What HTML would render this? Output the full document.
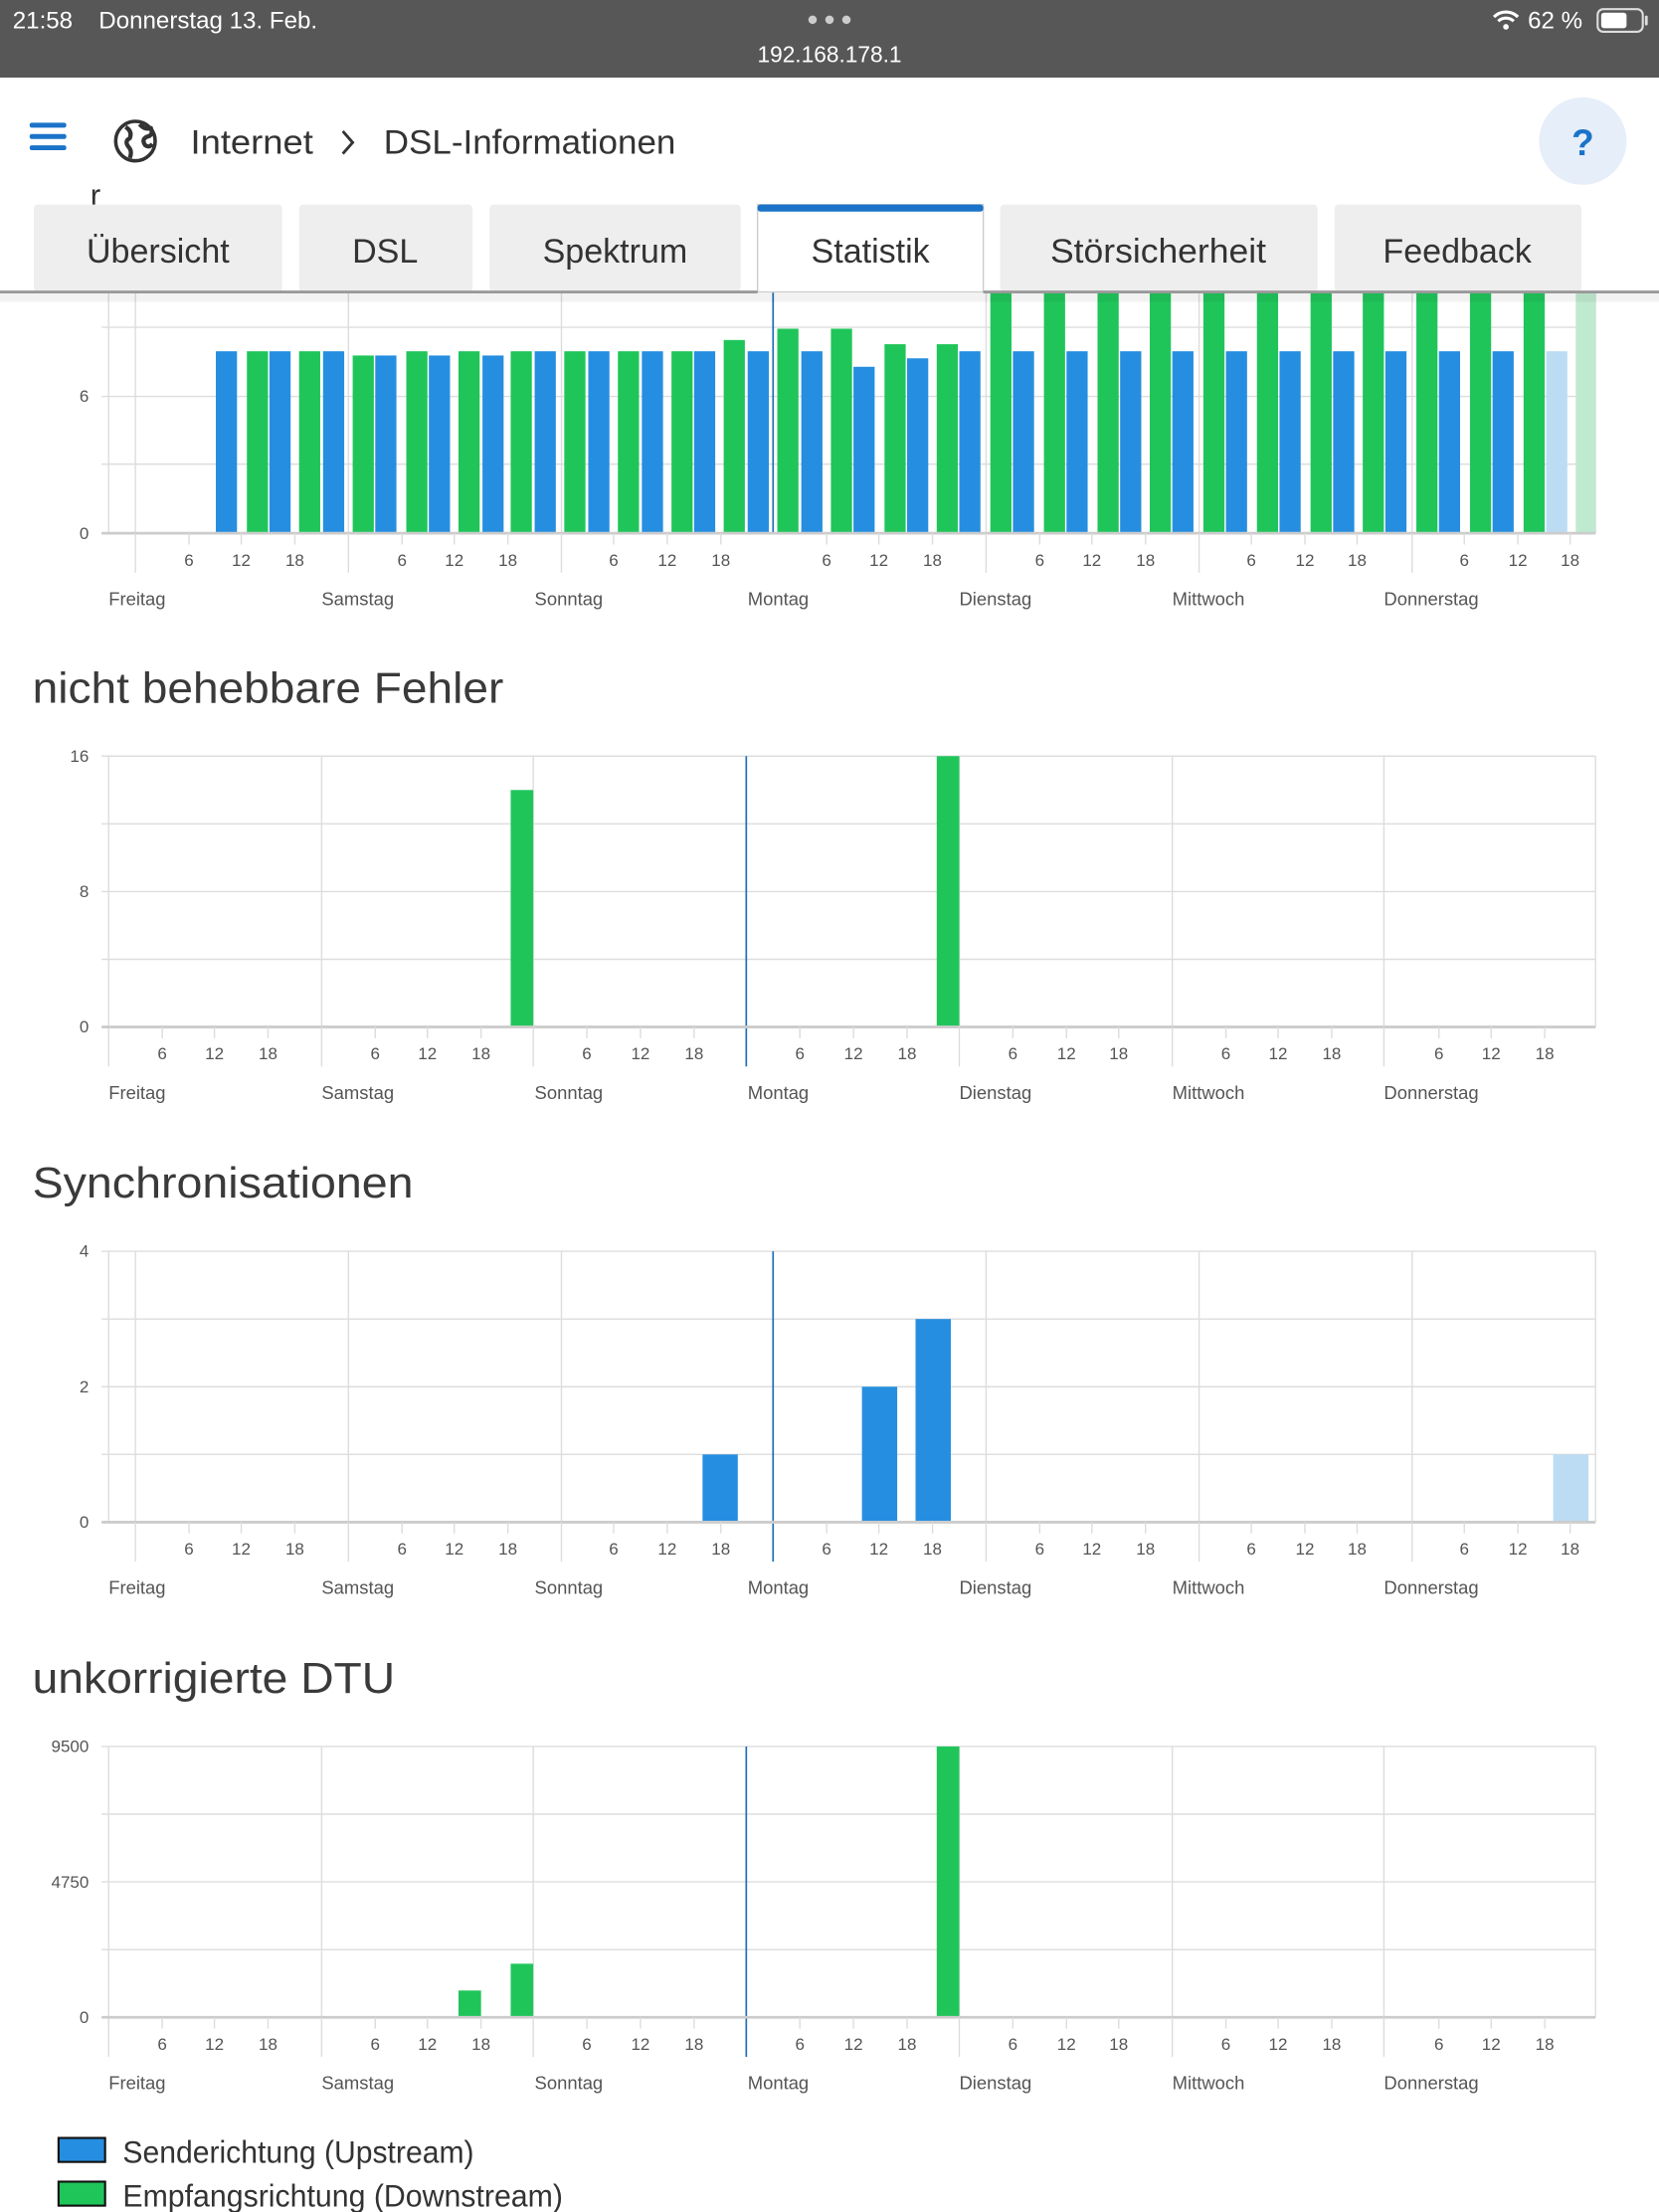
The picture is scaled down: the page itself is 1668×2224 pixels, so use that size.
<!DOCTYPE html>
<html><head><meta charset="utf-8"><style>
html,body{margin:0;padding:0;background:#fff;}
svg{display:block;}
text{font-family:"Liberation Sans",sans-serif;}
.tk{font-size:12px;fill:#555;text-anchor:middle;}
.dy{font-size:13px;fill:#555;}
.yl{font-size:12px;fill:#555;text-anchor:end;}
.h{font-size:31px;fill:#3a3a3a;}
.tab{font-size:24px;fill:#333;text-anchor:middle;}
.g{stroke:#ddd;stroke-width:1;}
.ga{stroke:#ccc;stroke-width:2;}
</style></head><body>
<svg width="1668" height="2224" viewBox="0 0 1176 1568" xmlns="http://www.w3.org/2000/svg">
<defs>
<g id="vA">
<line class="g" x1="96" y1="0" x2="96" y2="28"/><line class="g" x1="247" y1="0" x2="247" y2="28"/><line class="g" x1="398" y1="0" x2="398" y2="28"/><line class="g" x1="699" y1="0" x2="699" y2="28"/><line class="g" x1="850" y1="0" x2="850" y2="28"/><line class="g" x1="1001" y1="0" x2="1001" y2="28"/>
<g class="g"><line x1="134" y1="0" x2="134" y2="8"/><line x1="171" y1="0" x2="171" y2="8"/><line x1="209" y1="0" x2="209" y2="8"/><line x1="285" y1="0" x2="285" y2="8"/><line x1="322" y1="0" x2="322" y2="8"/><line x1="360" y1="0" x2="360" y2="8"/><line x1="435" y1="0" x2="435" y2="8"/><line x1="473" y1="0" x2="473" y2="8"/><line x1="511" y1="0" x2="511" y2="8"/><line x1="586" y1="0" x2="586" y2="8"/><line x1="623" y1="0" x2="623" y2="8"/><line x1="661" y1="0" x2="661" y2="8"/><line x1="737" y1="0" x2="737" y2="8"/><line x1="774" y1="0" x2="774" y2="8"/><line x1="812" y1="0" x2="812" y2="8"/><line x1="887" y1="0" x2="887" y2="8"/><line x1="925" y1="0" x2="925" y2="8"/><line x1="962" y1="0" x2="962" y2="8"/><line x1="1038" y1="0" x2="1038" y2="8"/><line x1="1076" y1="0" x2="1076" y2="8"/><line x1="1113" y1="0" x2="1113" y2="8"/></g>
<text class="tk" x="134" y="23">6</text><text class="tk" x="171" y="23">12</text><text class="tk" x="209" y="23">18</text>
<text class="tk" x="285" y="23">6</text><text class="tk" x="322" y="23">12</text><text class="tk" x="360" y="23">18</text>
<text class="tk" x="435" y="23">6</text><text class="tk" x="473" y="23">12</text><text class="tk" x="511" y="23">18</text>
<text class="tk" x="586" y="23">6</text><text class="tk" x="623" y="23">12</text><text class="tk" x="661" y="23">18</text>
<text class="tk" x="737" y="23">6</text><text class="tk" x="774" y="23">12</text><text class="tk" x="812" y="23">18</text>
<text class="tk" x="887" y="23">6</text><text class="tk" x="925" y="23">12</text><text class="tk" x="962" y="23">18</text>
<text class="tk" x="1038" y="23">6</text><text class="tk" x="1076" y="23">12</text><text class="tk" x="1113" y="23">18</text>
</g>
<g id="vB">
<line class="g" x1="228" y1="0" x2="228" y2="28"/><line class="g" x1="378" y1="0" x2="378" y2="28"/><line class="g" x1="680" y1="0" x2="680" y2="28"/><line class="g" x1="831" y1="0" x2="831" y2="28"/><line class="g" x1="981" y1="0" x2="981" y2="28"/>
<g class="g"><line x1="115" y1="0" x2="115" y2="8"/><line x1="152" y1="0" x2="152" y2="8"/><line x1="190" y1="0" x2="190" y2="8"/><line x1="266" y1="0" x2="266" y2="8"/><line x1="303" y1="0" x2="303" y2="8"/><line x1="341" y1="0" x2="341" y2="8"/><line x1="416" y1="0" x2="416" y2="8"/><line x1="454" y1="0" x2="454" y2="8"/><line x1="492" y1="0" x2="492" y2="8"/><line x1="567" y1="0" x2="567" y2="8"/><line x1="605" y1="0" x2="605" y2="8"/><line x1="643" y1="0" x2="643" y2="8"/><line x1="718" y1="0" x2="718" y2="8"/><line x1="756" y1="0" x2="756" y2="8"/><line x1="793" y1="0" x2="793" y2="8"/><line x1="869" y1="0" x2="869" y2="8"/><line x1="906" y1="0" x2="906" y2="8"/><line x1="944" y1="0" x2="944" y2="8"/><line x1="1020" y1="0" x2="1020" y2="8"/><line x1="1057" y1="0" x2="1057" y2="8"/><line x1="1095" y1="0" x2="1095" y2="8"/></g>
<text class="tk" x="115" y="23">6</text><text class="tk" x="152" y="23">12</text><text class="tk" x="190" y="23">18</text>
<text class="tk" x="266" y="23">6</text><text class="tk" x="303" y="23">12</text><text class="tk" x="341" y="23">18</text>
<text class="tk" x="416" y="23">6</text><text class="tk" x="454" y="23">12</text><text class="tk" x="492" y="23">18</text>
<text class="tk" x="567" y="23">6</text><text class="tk" x="605" y="23">12</text><text class="tk" x="643" y="23">18</text>
<text class="tk" x="718" y="23">6</text><text class="tk" x="756" y="23">12</text><text class="tk" x="793" y="23">18</text>
<text class="tk" x="869" y="23">6</text><text class="tk" x="906" y="23">12</text><text class="tk" x="944" y="23">18</text>
<text class="tk" x="1020" y="23">6</text><text class="tk" x="1057" y="23">12</text><text class="tk" x="1095" y="23">18</text>
</g>
<g id="days">
<text class="dy" x="77" y="51">Freitag</text><text class="dy" x="228" y="51">Samstag</text><text class="dy" x="379" y="51">Sonntag</text><text class="dy" x="530" y="51">Montag</text><text class="dy" x="680" y="51">Dienstag</text><text class="dy" x="831" y="51">Mittwoch</text><text class="dy" x="981" y="51">Donnerstag</text>
</g>
</defs>

<!-- Chart 1 -->
<g>
<g class="g"><line x1="72" y1="232" x2="1131" y2="232"/><line x1="72" y1="281" x2="1131" y2="281"/><line x1="72" y1="329" x2="1131" y2="329"/>
<line x1="77" y1="207" x2="77" y2="378"/><line x1="96" y1="207" x2="96" y2="378"/><line x1="247" y1="207" x2="247" y2="378"/><line x1="398" y1="207" x2="398" y2="378"/><line x1="699" y1="207" x2="699" y2="378"/><line x1="850" y1="207" x2="850" y2="378"/><line x1="1001" y1="207" x2="1001" y2="378"/><line x1="1131" y1="207" x2="1131" y2="378"/></g>
<g fill="#268ee0">
<rect x="153" y="249" width="15" height="129"/><rect x="191" y="249" width="15" height="129"/><rect x="229" y="249" width="15" height="129"/>
<rect x="266" y="252" width="15" height="126"/><rect x="304" y="252" width="15" height="126"/><rect x="342" y="252" width="15" height="126"/><rect x="379" y="249" width="15" height="129"/>
<rect x="417" y="249" width="15" height="129"/><rect x="455" y="249" width="15" height="129"/><rect x="492" y="249" width="15" height="129"/><rect x="530" y="249" width="15" height="129"/>
<rect x="568" y="249" width="15" height="129"/><rect x="605" y="260" width="15" height="118"/><rect x="643" y="254" width="15" height="124"/><rect x="680" y="249" width="15" height="129"/>
<rect x="718" y="249" width="15" height="129"/><rect x="756" y="249" width="15" height="129"/><rect x="794" y="249" width="15" height="129"/><rect x="831" y="249" width="15" height="129"/>
<rect x="869" y="249" width="15" height="129"/><rect x="907" y="249" width="15" height="129"/><rect x="945" y="249" width="15" height="129"/><rect x="982" y="249" width="15" height="129"/>
<rect x="1020" y="249" width="15" height="129"/><rect x="1058" y="249" width="15" height="129"/>
</g>
<rect x="1096" y="249" width="15" height="129" fill="#bcdcf3"/>
<g fill="#20c55a">
<rect x="175" y="249" width="15" height="129"/><rect x="212" y="249" width="15" height="129"/>
<rect x="250" y="252" width="15" height="126"/><rect x="288" y="249" width="15" height="129"/><rect x="325" y="249" width="15" height="129"/><rect x="362" y="249" width="15" height="129"/>
<rect x="400" y="249" width="15" height="129"/><rect x="438" y="249" width="15" height="129"/><rect x="476" y="249" width="15" height="129"/><rect x="513" y="241" width="15" height="137"/>
<rect x="551" y="233" width="15" height="145"/><rect x="589" y="233" width="15" height="145"/><rect x="627" y="244" width="15" height="134"/><rect x="664" y="244" width="15" height="134"/>
<rect x="702" y="200" width="15" height="178"/><rect x="740" y="200" width="15" height="178"/><rect x="778" y="200" width="15" height="178"/><rect x="815" y="200" width="15" height="178"/>
<rect x="853" y="200" width="15" height="178"/><rect x="891" y="200" width="15" height="178"/><rect x="929" y="200" width="15" height="178"/><rect x="966" y="200" width="15" height="178"/>
<rect x="1004" y="200" width="15" height="178"/><rect x="1042" y="200" width="15" height="178"/><rect x="1080" y="200" width="15" height="178"/>
</g>
<rect x="1117" y="200" width="14" height="178" fill="#bfead0"/>
<line x1="548" y1="207" x2="548" y2="378" stroke="#1f6fb8" stroke-width="1.2"/>
<line class="ga" x1="72" y1="378" x2="1131" y2="378"/>
<text class="yl" x="63" y="285">6</text><text class="yl" x="63" y="382">0</text>
<g transform="translate(0,378)"><use href="#vA"/><use href="#days"/></g>
</g>

<text class="h" x="23" y="498" textLength="334" lengthAdjust="spacingAndGlyphs">nicht behebbare Fehler</text>
<!-- Chart 2 -->
<g>
<g class="g"><line x1="72" y1="536" x2="1131" y2="536"/><line x1="72" y1="584" x2="1131" y2="584"/><line x1="72" y1="632" x2="1131" y2="632"/><line x1="72" y1="680" x2="1131" y2="680"/>
<line x1="77" y1="536" x2="77" y2="756"/><line x1="228" y1="536" x2="228" y2="728"/><line x1="378" y1="536" x2="378" y2="728"/><line x1="680" y1="536" x2="680" y2="728"/><line x1="831" y1="536" x2="831" y2="728"/><line x1="981" y1="536" x2="981" y2="728"/><line x1="1131" y1="536" x2="1131" y2="728"/></g>
<rect x="362" y="560" width="16" height="168" fill="#20c55a"/>
<rect x="664" y="536" width="16" height="192" fill="#20c55a"/>
<line x1="529" y1="536" x2="529" y2="756" stroke="#1f6fb8" stroke-width="1.2"/>
<line class="ga" x1="72" y1="728" x2="1131" y2="728"/>
<text class="yl" x="63" y="540">16</text><text class="yl" x="63" y="636">8</text><text class="yl" x="63" y="732">0</text>
<g transform="translate(0,728)"><use href="#vB"/><use href="#days"/></g>
</g>

<text class="h" x="23" y="849" textLength="270" lengthAdjust="spacingAndGlyphs">Synchronisationen</text>
<!-- Chart 3 -->
<g>
<g class="g"><line x1="72" y1="887" x2="1131" y2="887"/><line x1="72" y1="935" x2="1131" y2="935"/><line x1="72" y1="983" x2="1131" y2="983"/><line x1="72" y1="1031" x2="1131" y2="1031"/>
<line x1="77" y1="887" x2="77" y2="1079"/><line x1="96" y1="887" x2="96" y2="1079"/><line x1="247" y1="887" x2="247" y2="1079"/><line x1="398" y1="887" x2="398" y2="1079"/><line x1="699" y1="887" x2="699" y2="1079"/><line x1="850" y1="887" x2="850" y2="1079"/><line x1="1001" y1="887" x2="1001" y2="1079"/><line x1="1131" y1="887" x2="1131" y2="1079"/></g>
<rect x="498" y="1031" width="25" height="48" fill="#268ee0"/>
<rect x="611" y="983" width="25" height="96" fill="#268ee0"/>
<rect x="649" y="935" width="25" height="144" fill="#268ee0"/>
<rect x="1101" y="1031" width="25" height="48" fill="#bcdcf3"/>
<line x1="548" y1="887" x2="548" y2="1107" stroke="#1f6fb8" stroke-width="1.2"/>
<line class="ga" x1="72" y1="1079" x2="1131" y2="1079"/>
<text class="yl" x="63" y="891">4</text><text class="yl" x="63" y="987">2</text><text class="yl" x="63" y="1083">0</text>
<g transform="translate(0,1079)"><use href="#vA"/><use href="#days"/></g>
</g>

<text class="h" x="23" y="1200" textLength="257" lengthAdjust="spacingAndGlyphs">unkorrigierte DTU</text>
<!-- Chart 4 -->
<g>
<g class="g"><line x1="72" y1="1238" x2="1131" y2="1238"/><line x1="72" y1="1286" x2="1131" y2="1286"/><line x1="72" y1="1334" x2="1131" y2="1334"/><line x1="72" y1="1382" x2="1131" y2="1382"/>
<line x1="77" y1="1238" x2="77" y2="1458"/><line x1="228" y1="1238" x2="228" y2="1430"/><line x1="378" y1="1238" x2="378" y2="1430"/><line x1="680" y1="1238" x2="680" y2="1430"/><line x1="831" y1="1238" x2="831" y2="1430"/><line x1="981" y1="1238" x2="981" y2="1430"/><line x1="1131" y1="1238" x2="1131" y2="1430"/></g>
<rect x="325" y="1411" width="16" height="19" fill="#20c55a"/>
<rect x="362" y="1392" width="16" height="38" fill="#20c55a"/>
<rect x="664" y="1238" width="16" height="192" fill="#20c55a"/>
<line x1="529" y1="1238" x2="529" y2="1458" stroke="#1f6fb8" stroke-width="1.2"/>
<line class="ga" x1="72" y1="1430" x2="1131" y2="1430"/>
<text class="yl" x="63" y="1242">9500</text><text class="yl" x="63" y="1338">4750</text><text class="yl" x="63" y="1434">0</text>
<g transform="translate(0,1430)"><use href="#vB"/><use href="#days"/></g>
</g>

<!-- Legend -->
<rect x="41.5" y="1515.5" width="33" height="17" fill="#268ee0" stroke="#111" stroke-width="1.5"/>
<text x="87" y="1533" font-size="22" fill="#333" textLength="249" lengthAdjust="spacingAndGlyphs">Senderichtung (Upstream)</text>
<rect x="41.5" y="1546.5" width="33" height="17" fill="#20c55a" stroke="#111" stroke-width="1.5"/>
<text x="87" y="1564" font-size="22" fill="#333" textLength="312" lengthAdjust="spacingAndGlyphs">Empfangsrichtung (Downstream)</text>

<!-- Header (white area) -->
<rect x="0" y="55" width="1176" height="152" fill="#fff"/>
<g fill="#1a73c8"><rect x="21" y="87" width="26" height="3.5" rx="1.5"/><rect x="21" y="95" width="26" height="3.5" rx="1.5"/><rect x="21" y="103" width="26" height="3.5" rx="1.5"/></g>
<circle cx="96" cy="100" r="14" fill="none" stroke="#333" stroke-width="2.5"/>
<path d="M89 90 q5 3 3 8 q-4 2 -1 6 q3 3 1 8 M99 88 q3 4 8 3 q2 5 -3 6 q-4 2 -1 6 q3 2 5 -1" fill="none" stroke="#333" stroke-width="3"/>
<text x="135" y="109" font-size="24" fill="#333" textLength="87" lengthAdjust="spacingAndGlyphs">Internet</text>
<path d="M243 93 l7 8 l-7 8" fill="none" stroke="#333" stroke-width="2"/>
<text x="272" y="109" font-size="24" fill="#333" textLength="207" lengthAdjust="spacingAndGlyphs">DSL-Informationen</text>
<circle cx="1122" cy="100" r="31" fill="#e6eef9"/>
<text x="1122" y="110" font-size="26" font-weight="bold" fill="#1a73c8" text-anchor="middle">?</text>
<text x="64" y="146" font-size="22" fill="#333">r</text>

<!-- Tabs -->
<g fill="#eeeeee">
<rect x="24" y="145" width="176" height="62" rx="3"/><rect x="212" y="145" width="123" height="62" rx="3"/><rect x="347" y="145" width="178" height="62" rx="3"/><rect x="709" y="145" width="225" height="62" rx="3"/><rect x="946" y="145" width="175" height="62" rx="3"/>
</g>
<rect x="537" y="145" width="160" height="62" fill="#fff" stroke="#ccc" stroke-width="1"/>
<rect x="537" y="145" width="160" height="5" fill="#1a73c8" rx="2"/>
<text class="tab" x="112" y="186">Übersicht</text>
<text class="tab" x="273" y="186">DSL</text>
<text class="tab" x="436" y="186">Spektrum</text>
<text class="tab" x="617" y="186">Statistik</text>
<text class="tab" x="821" y="186" textLength="153" lengthAdjust="spacingAndGlyphs">Störsicherheit</text>
<text class="tab" x="1033" y="186">Feedback</text>
<line x1="0" y1="207" x2="537" y2="207" stroke="#999" stroke-width="2"/>
<line x1="697" y1="207" x2="1176" y2="207" stroke="#999" stroke-width="2"/>
<rect x="0" y="208" width="1176" height="6" fill="#000" opacity="0.05"/>

<!-- Status bar -->
<rect x="0" y="0" width="1176" height="55" fill="#575757"/>
<text x="9" y="20" font-size="17" fill="#fff">21:58</text>
<text x="70" y="20" font-size="17" fill="#fff">Donnerstag 13. Feb.</text>
<g fill="#ccc"><circle cx="576" cy="14" r="3"/><circle cx="588" cy="14" r="3"/><circle cx="600" cy="14" r="3"/></g>
<text x="588" y="44" font-size="16" fill="#fff" text-anchor="middle">192.168.178.1</text>
<path d="M1059 12 a12 12 0 0 1 17 0 M1062 15 a8 8 0 0 1 11 0" fill="none" stroke="#fff" stroke-width="2.2"/>
<circle cx="1067.5" cy="19" r="2" fill="#fff"/>
<text x="1083" y="20" font-size="17" fill="#fff">62 %</text>
<rect x="1132.5" y="6.5" width="32" height="16" rx="4" fill="none" stroke="#ddd" stroke-width="1.5"/>
<rect x="1135" y="9" width="18" height="11" rx="2" fill="#fff"/>
<rect x="1166" y="11" width="2" height="7" rx="1" fill="#ddd"/>
</svg>
</body></html>
